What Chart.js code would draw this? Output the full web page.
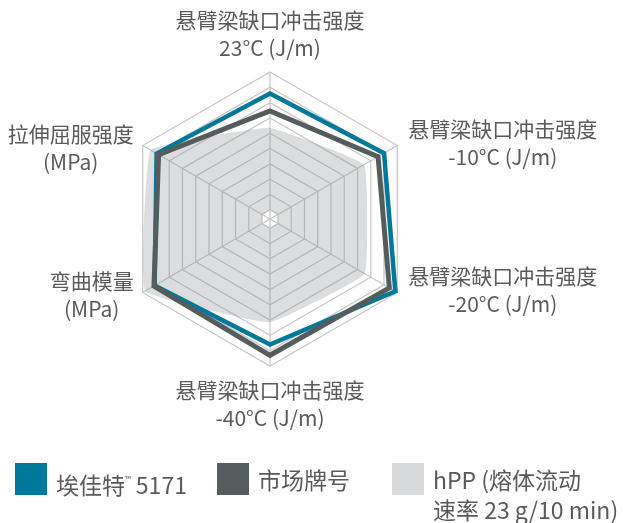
<!DOCTYPE html>
<html>
<head>
    <meta charset="utf-8">
    <title>Radar</title>
    <script src="https://cdn.jsdelivr.net/npm/chart.js"></script>
    <style>
        body { margin: 0; background: #fff; font-family: "Noto Sans CJK SC", "Noto Sans", sans-serif; }
        .wrap { position: relative; width: 623px; height: 523px; overflow: hidden; }
        .legend-item { position: absolute; top: 463px; color: #5a5a5a; font-size: 23px; line-height: 30px; white-space: nowrap; }
        .legend-item .box { position: absolute; left: 0; top: 0; width: 32px; height: 32px; }
        .legend-item .txt { position: absolute; left: 41px; top: 1px; }
        .legend-item sup { font-size: 8px; vertical-align: 12px; }
    </style>
</head>
<body>
    <div class="wrap">
        <canvas id="radar"></canvas>
        <div id="legend"></div>
    </div>

    <script>
        // axis labels, clockwise from the top
        const axisLabels = [
            ['悬臂梁缺口冲击强度', '23°C (J/m)'],
            ['悬臂梁缺口冲击强度', '-10°C (J/m)'],
            ['悬臂梁缺口冲击强度', '-20°C (J/m)'],
            ['悬臂梁缺口冲击强度', '-40°C (J/m)'],
            ['弯曲模量', '(MPa)'],
            ['拉伸屈服强度', '(MPa)']
        ];

        // values in grid-ring units (outer ring = 9)
        const seriesNames = ['埃佳特™ 5171', '市场牌号', 'hPP (熔体流动\n速率 23 g/10 min)'];
        const exxtralValues = [7.6, 8.0, 8.85, 7.6, 8.1, 7.95];
        const marketValues = [6.45, 7.55, 8.4, 8.3, 8.15, 7.8];
        const hppValues = [5.35, 6.5, 6.55, 6.15, 8.8, 8.4];

        const ringTicks = [0, 1, 2, 3, 4, 5, 6, 7, 8, 9];
        const scaleMin = -0.6;
        const scaleMax = 9;

        const legendX = [15, 217, 392];
        const legendColors = ['#00789a', '#555c5d', '#d9dadc'];

        const labelFont = '21px "Noto Sans CJK SC", "Noto Sans", sans-serif';

        // draws the axis labels, each line centred inside its block
        const axisLabelPlugin = {
            id: 'axisLabels',
            afterDraw(chart) {
                const scale = chart.scales.r;
                const ctx = chart.ctx;
                const lh = 28;
                ctx.save();
                ctx.font = labelFont;
                ctx.fillStyle = '#5a5a5a';
                ctx.textAlign = 'center';
                ctx.textBaseline = 'middle';
                axisLabels.forEach((lines, i) => {
                    const v = scale.getPointPosition(i, scale.drawingArea);
                    const w = Math.max(...lines.map(t => ctx.measureText(t).width));
                    const h = lines.length * lh;
                    let cx, top;
                    if (Math.abs(v.x - scale.xCenter) < 2) {
                        cx = v.x;
                        top = v.y < scale.yCenter ? v.y - 10 - h : v.y + 10;
                    } else if (v.x > scale.xCenter) {
                        cx = v.x + 11 + w / 2;
                        top = v.y - h / 2 - 2;
                    } else {
                        cx = v.x - 9 - w / 2;
                        top = v.y - h / 2 + 3;
                    }
                    lines.forEach((t, k) => ctx.fillText(t, cx, top + lh / 2 + k * lh));
                });
                ctx.restore();
            }
        };

        const ctx = document.getElementById('radar').getContext('2d');
        const chart = new Chart(ctx, {
            type: 'radar',
            data: {
                labels: axisLabels,
                datasets: [{
                    label: seriesNames[0],
                    data: exxtralValues,
                    borderColor: legendColors[0],
                    backgroundColor: 'transparent',
                    borderWidth: 4.5,
                    borderJoinStyle: 'miter',
                    fill: false,
                    pointRadius: 0,
                    order: 2
                }, {
                    label: seriesNames[1],
                    data: marketValues,
                    borderColor: legendColors[1],
                    backgroundColor: 'transparent',
                    borderWidth: 5,
                    borderJoinStyle: 'miter',
                    fill: false,
                    pointRadius: 0,
                    order: 1
                }, {
                    label: seriesNames[2],
                    data: hppValues,
                    borderColor: 'transparent',
                    backgroundColor: 'rgba(140, 143, 148, 0.3)',
                    borderWidth: 0,
                    fill: true,
                    tension: 0.08,
                    pointRadius: 0,
                    order: 3
                }]
            },
            options: {
                responsive: true,
                maintainAspectRatio: false,
                animation: false,
                layout: {
                    padding: { left: 123, right: 206, top: 72, bottom: 157 }
                },
                scales: {
                    r: {
                        min: scaleMin,
                        max: scaleMax,
                        afterBuildTicks: scale => {
                            scale.ticks = ringTicks.map(v => ({ value: v }));
                        },
                        ticks: { display: false },
                        pointLabels: { display: false },
                        grid: { color: '#c6c6c6', lineWidth: 1.2 },
                        angleLines: { color: '#c6c6c6', lineWidth: 1.2 }
                    }
                },
                plugins: {
                    legend: { display: false },
                    tooltip: { enabled: false }
                }
            },
            plugins: [axisLabelPlugin]
        });

        // html legend built from the datasets
        function buildLegend() {
            const legendDiv = document.getElementById('legend');
            let html = '';
            chart.data.datasets.forEach((ds, i) => {
                const text = ds.label
                    .replace('™', '<sup>™</sup>')
                    .replace('\n', '<br>');
                html += `<div class="legend-item" style="left:${legendX[i]}px">
                    <div class="box" style="background:${legendColors[i]}"></div>
                    <div class="txt">${text}</div>
                </div>`;
            });
            legendDiv.innerHTML = html;
        }

        buildLegend();
    </script>
</body>
</html>
